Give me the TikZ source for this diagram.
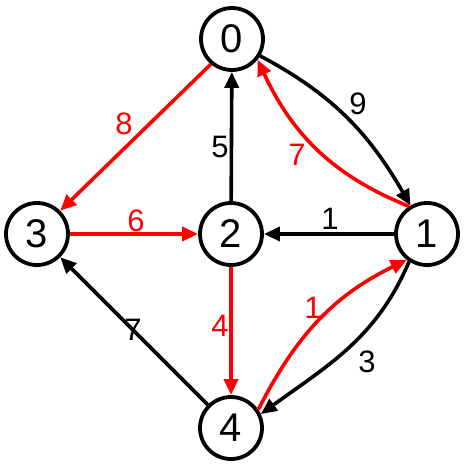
\documentclass[tikz,border=0pt]{standalone}
\usepackage{fontspec}
\setmainfont{Liberation Sans}
\usetikzlibrary{arrows.meta}
\definecolor{ered}{RGB}{255,0,0}
\begin{document}
\begin{tikzpicture}[x=1pt,y=-1pt,
  vtx/.style={circle,draw=black,line width=3.8pt,minimum size=62pt,inner sep=0pt,font=\fontsize{40}{40}\selectfont},
  blk/.style={draw=black,line width=3.6pt,-{Triangle[length=16pt,width=14pt]}},
  rd/.style={draw=ered,line width=3.6pt,-{Triangle[length=16pt,width=14pt]}},
  lbl/.style={font=\fontsize{31}{31}\selectfont,inner sep=0pt},
  rlbl/.style={lbl,text=ered}]
\useasboundingbox (0,0) rectangle (463,465);
\node[vtx] (n0) at (232,39) {0};
\node[vtx] (n1) at (427,234) {1};
\node[vtx] (n2) at (231,234) {2};
\node[vtx] (n3) at (37,234) {3};
\node[vtx] (n4) at (231,428) {4};
% straight edges
\draw[blk] (n2) -- (n0);
\draw[blk] (n1) -- (n2);
\draw[blk] (n4) -- (n3);
\draw[rd] (n0.-130) -- (n3.45);
\draw[rd] (n3) -- (n2);
\draw[rd] (n2) -- (n4);
% curved edges
\draw[blk] (n0.-31) to[out=-28,in=120] (n1.120);
\draw[rd] (n1.123) to[out=158,in=-65] (n0.-39);
\draw[rd] (n4.34) to[out=63,in=206] (n1.232);
\draw[blk] (n1.237) to[out=-113,in=36] (n4.25);
% labels
\node[lbl] (l9) at (358,104) {9};
\node[rlbl] (l7r) at (297,155) {7};
\node[lbl] (l5) at (220,147) {5};
\node[rlbl] (l8) at (124,124) {8};
\node[rlbl] (l6) at (136,221) {6};
\node[lbl] (l1) at (330,219) {1};
\node[rlbl] (l4) at (220,326) {4};
\node[lbl] (l7) at (133,330) {7};
\node[rlbl] (l1r) at (313,308) {1};
\node[lbl] (l3) at (367,362) {3};
\end{tikzpicture}
\end{document}
